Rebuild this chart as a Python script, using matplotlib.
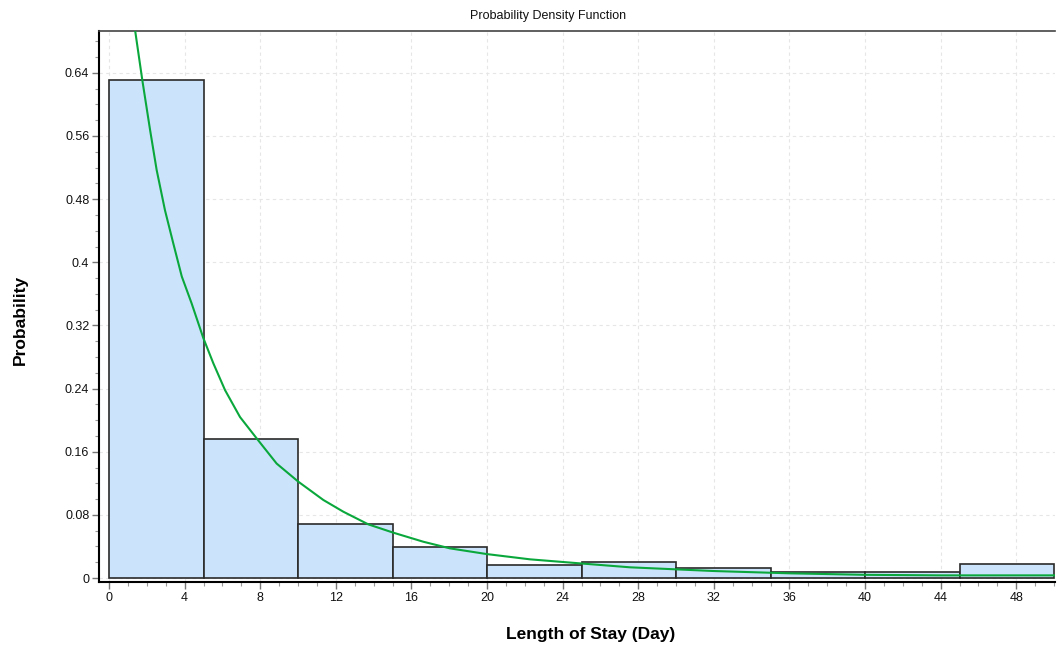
import numpy as np
import matplotlib
matplotlib.use("Agg")
import matplotlib.pyplot as plt
from matplotlib.ticker import MultipleLocator, FuncFormatter

# histogram of length of stay (days), bins of 5 days
bin_edges = [0, 5, 10, 15, 20, 25, 30, 35, 40, 45, 50]
bin_probs = [0.631, 0.1766, 0.068, 0.0389, 0.0165, 0.0199, 0.0123, 0.0072, 0.008, 0.0177]

# fitted density curve
pdf_x = [1.376, 1.76, 2.17, 2.52, 2.96, 3.40, 3.85, 4.37, 4.99, 5.52, 6.14, 6.93,
         7.81, 8.87, 10.02, 11.34, 12.40, 13.72, 15.04, 16.63, 18.04, 19.98, 22.28,
         24.92, 27.57, 32.0, 36.0, 40.0, 44.0, 50.0]
pdf_y = [0.6945, 0.631, 0.568, 0.517, 0.466, 0.424, 0.382, 0.348, 0.304, 0.272, 0.238, 0.204,
         0.177, 0.145, 0.122, 0.0989, 0.084, 0.068, 0.0575, 0.046, 0.0376, 0.0304, 0.0237,
         0.0186, 0.0136, 0.0089, 0.006, 0.0041, 0.0034, 0.0034]

plt.rcParams['font.family'] = ['Liberation Sans', 'DejaVu Sans']

fig = plt.figure(figsize=(10.57, 6.49), dpi=100)
ax = fig.add_axes([99 / 1057, 1 - 582 / 649, (1055 - 99) / 1057, (582 - 31) / 649])

widths = np.diff(bin_edges)
ax.bar(bin_edges[:-1], bin_probs, width=widths, align='edge',
       color='#cce4fb', edgecolor='#2a2a2a', linewidth=1.2, zorder=2)
ax.plot(pdf_x, pdf_y, color='#0aa83c', linewidth=1.5, zorder=3)

ax.set_xlim(-0.53, 50.05)
ax.set_ylim(-0.005, 0.693)

ax.xaxis.set_major_locator(MultipleLocator(4))
ax.xaxis.set_minor_locator(MultipleLocator(1))
ax.yaxis.set_major_locator(MultipleLocator(0.08))
ax.yaxis.set_minor_locator(MultipleLocator(0.02))
ax.yaxis.set_major_formatter(FuncFormatter(lambda v, p: '0' if abs(v) < 1e-9 else f'{v:g}'))

ax.tick_params(axis='both', which='major', length=5, width=1, color='#777777',
               labelsize=9, labelcolor='#111111', pad=2)
ax.tick_params(axis='both', which='minor', length=3, width=0.8, color='#999999')

ax.grid(True, which='major', color='#e6e6e6', linestyle=(0, (3, 3)), linewidth=0.8, zorder=0)
ax.set_axisbelow(True)

ax.spines['left'].set_linewidth(1.5)
ax.spines['left'].set_color('black')
ax.spines['bottom'].set_linewidth(1.5)
ax.spines['bottom'].set_color('black')
ax.spines['top'].set_linewidth(1.2)
ax.spines['top'].set_color('#444444')
ax.spines['right'].set_visible(False)

fig.text(548 / 1057, 1 - 16 / 649, 'Probability Density Function', ha='center', va='center',
         fontsize=9, color='#111111')
fig.text(591 / 1057, 1 - 635 / 649, 'Length of Stay (Day)', ha='center', va='center',
         fontsize=12.5, fontweight='bold')
fig.text(20 / 1057, 1 - 320 / 649, 'Probability', ha='center', va='center', rotation=90,
         fontsize=12.5, fontweight='bold')

fig.savefig('out.png', dpi=100)
